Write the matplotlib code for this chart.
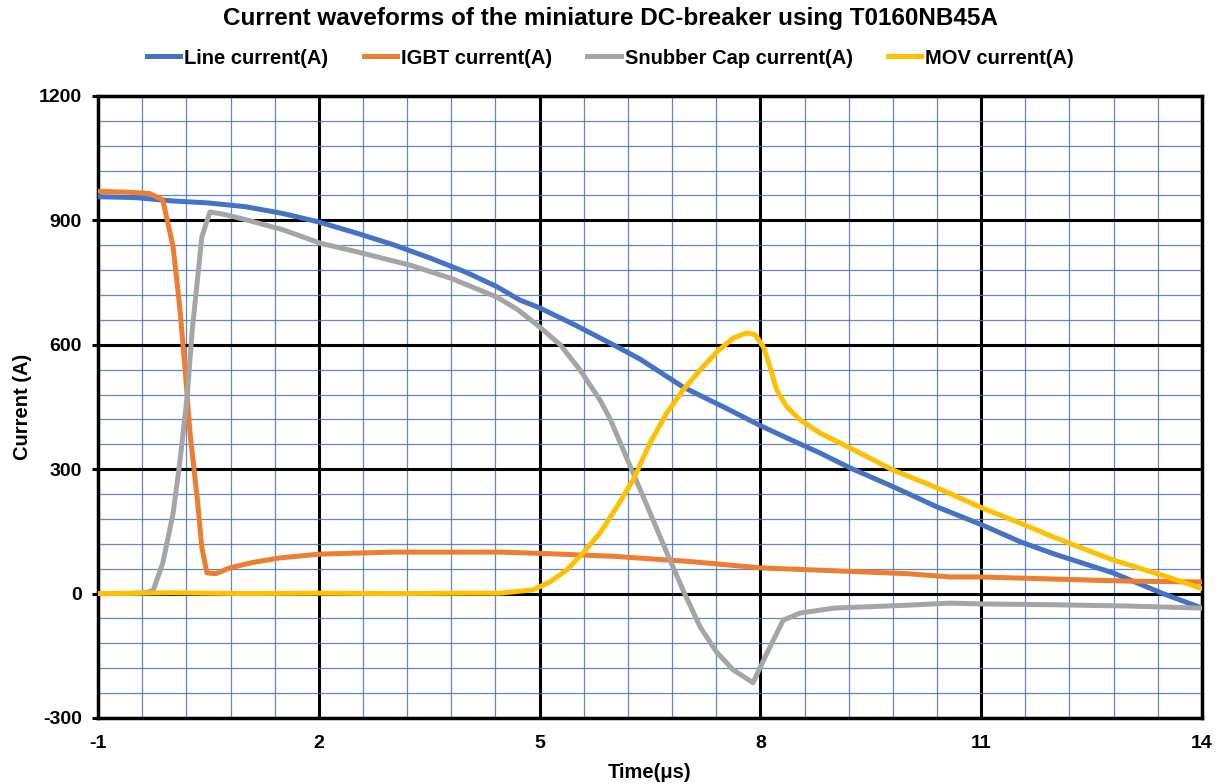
import numpy as np
import matplotlib.pyplot as plt

plt.rcParams['font.family'] = ['Liberation Sans', 'DejaVu Sans']
plt.rcParams['font.weight'] = 'bold'
plt.rcParams['axes.unicode_minus'] = False

# values (time in us, current in A)
line_t = [-1, -0.5, 0, 0.5, 1, 1.5, 2, 2.5, 3, 3.5, 4, 4.42, 4.73, 5, 5.5, 6, 6.36, 6.95,
          7.5, 8, 8.4, 8.81, 9.22, 9.8, 10.4, 11.02, 11.53, 12, 12.79, 13.47, 14]
line_i = [957, 955, 947, 942, 933, 917, 896, 870, 842, 810, 775, 740, 708, 689, 646, 600, 566, 498,
          450, 405, 372, 339, 303, 258, 209, 165, 125, 95, 50, 0, -35]

igbt_t = [-1, -0.6, -0.3, -0.12, 0.02, 0.11, 0.18, 0.25, 0.35, 0.41, 0.48, 0.6, 0.79, 1.1, 1.47,
          2, 3, 4, 4.46, 5, 6, 6.73, 7, 8, 9, 10, 10.58, 11, 12, 13, 14]
igbt_i = [970, 968, 965, 949, 836, 691, 547, 387, 226, 112, 50, 48, 62, 75, 86,
          95, 100, 100, 100, 97, 90, 81, 78, 62, 55, 48, 40, 40, 35, 30, 28]

snub_t = [-1, -0.6, -0.35, -0.25, -0.12, 0.02, 0.11, 0.21, 0.28, 0.35, 0.41, 0.52, 0.7, 1, 1.5,
          2.02, 2.5, 3.24, 3.8, 4.42, 4.7, 5, 5.28, 5.55, 5.82, 5.96, 6.1, 6.27, 6.5, 6.73, 6.95,
          7.18, 7.4, 7.63, 7.9, 8.09, 8.31, 8.54, 9, 10, 10.58, 11, 12, 13, 14]
snub_i = [0, 0, 2, 8, 74, 194, 315, 474, 636, 756, 860, 920, 915, 902, 878,
          845, 825, 792, 760, 715, 685, 643, 600, 539, 467, 420, 362, 291, 195, 98, 8,
          -80, -140, -184, -215, -143, -64, -47, -35, -28, -23, -25, -27, -30, -35]

mov_t = [-1, 0, 1, 2, 3, 4, 4.46, 4.91, 5.14, 5.37, 5.59, 5.82, 6.05, 6.27, 6.5, 6.73, 6.95,
         7.18, 7.41, 7.63, 7.82, 7.93, 8.04, 8.13, 8.22, 8.36, 8.54, 8.81, 9.22, 9.8, 10.4,
         11.02, 11.53, 12, 12.79, 13.5, 14]
mov_i = [0, 2, 0, 1, 0, 1, 1, 9, 28, 57, 98, 146, 209, 274, 363, 436, 491,
         539, 583, 616, 629, 624, 595, 547, 491, 450, 419, 387, 351, 298, 255,
         206, 170, 135, 81, 42, 12]

fig = plt.figure(figsize=(12.21, 7.84), dpi=100)
ax = fig.add_axes([0.0803, 0.0842, 0.9041, 0.7934])

ax.plot(line_t, line_i, color='#4472C4', lw=3.6, label='Line current(A)', zorder=3)
ax.plot(igbt_t, igbt_i, color='#ED7D31', lw=3.6, label='IGBT current(A)', zorder=3)
ax.plot(snub_t, snub_i, color='#A5A5A5', lw=3.6, label='Snubber Cap current(A)', zorder=3)
ax.plot(mov_t, mov_i, color='#FFC000', lw=3.6, label='MOV current(A)', zorder=3)

ax.set_xlim(-1, 14)
ax.set_ylim(-300, 1200)
ax.set_xticks(np.arange(-1, 14.01, 3))
ax.set_xticks(np.arange(-1, 14.01, 0.6), minor=True)
ax.set_yticks(np.arange(-300, 1201, 300))
ax.set_yticks(np.arange(-300, 1201, 60), minor=True)
ax.grid(which='minor', color='#4472C4', lw=0.9, alpha=0.85, zorder=1)
ax.grid(which='major', color='black', lw=2.2, zorder=2)
ax.set_axisbelow(True)
for s in ax.spines.values():
    s.set_linewidth(2.5)
ax.tick_params(which='minor', length=0)
ax.tick_params(which='major', labelsize=14, width=2.2, length=4.5, pad=7)
ax.tick_params(axis='x', which='major', length=0, pad=12)

ax.set_xlabel('Time(μs)', fontsize=14.5, fontweight='bold', labelpad=8)
ax.set_ylabel('Current (A)', fontsize=14.5, fontweight='bold', labelpad=5)

# title and legend are centred on the whole figure
fig.suptitle('Current waveforms of the miniature DC-breaker using T0160NB45A',
             fontsize=17.5, fontweight='bold', x=0.5, y=1 - 18 / 784, va='center')
handles, labels = ax.get_legend_handles_labels()
fig.legend(handles, labels, loc='center', bbox_to_anchor=(0.5, 1 - 58 / 784), ncol=4,
           frameon=False, fontsize=14.5, handlelength=1.65, columnspacing=1.75,
           handletextpad=0.2)

fig.savefig('out.png', dpi=100)
